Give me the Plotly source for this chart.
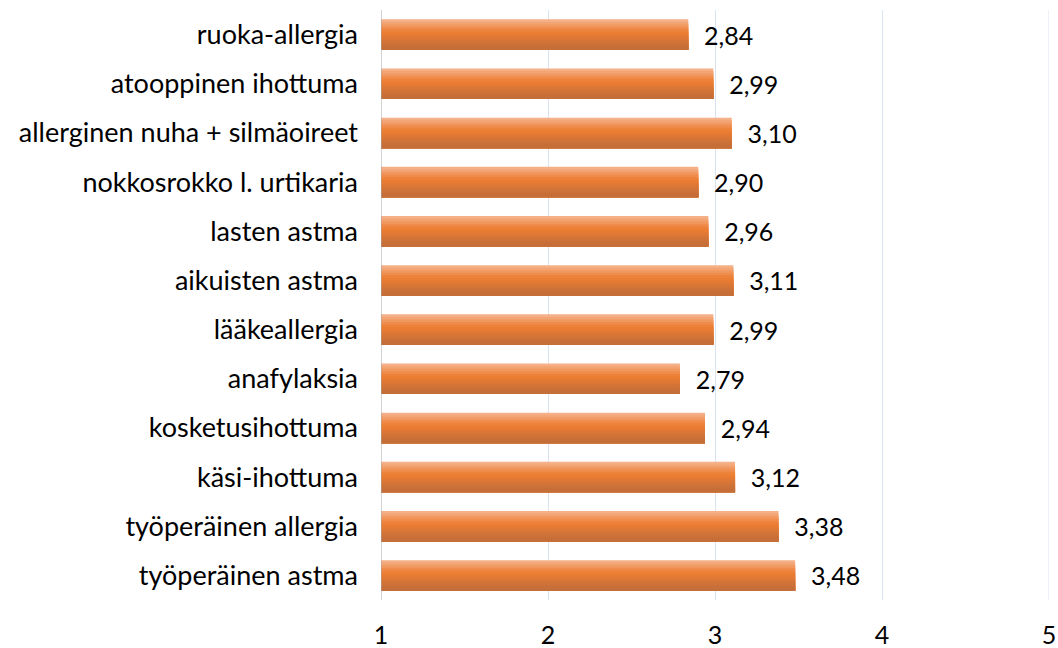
import plotly.graph_objects as go

categories = ["ruoka-allergia", "atooppinen ihottuma", "allerginen nuha + silmäoireet",
              "nokkosrokko l. urtikaria", "lasten astma", "aikuisten astma", "lääkeallergia",
              "anafylaksia", "kosketusihottuma", "käsi-ihottuma", "työperäinen allergia",
              "työperäinen astma"]
values = [2.84, 2.99, 3.10, 2.90, 2.96, 3.11, 2.99, 2.79, 2.94, 3.12, 3.38, 3.48]
tick_vals = [1, 2, 3, 4, 5]
tick_text = ["1", "2", "3", "4", "5"]

labels = ["\u00a0\u00a0" + f"{v:.2f}".replace(".", ",") for v in values]

# vertical gradient, top to bottom
grad = ["#f5b088", "#f3a473", "#f19860", "#ef8c4c", "#ed823b", "#eb7d33",
        "#e47a34", "#dc7735", "#d47437", "#cd7238", "#c86f38", "#c46e39"]
w = 0.62
n = len(grad)
FONT = "Lato, Open Sans, Liberation Sans, sans-serif"

fig = go.Figure()
for i, c in enumerate(grad):
    fig.add_trace(go.Bar(
        y=categories, x=values, orientation="h",
        width=w - i * w / n, offset=-w / 2 + i * w / n,
        marker=dict(color=c, line=dict(width=0)),
        hoverinfo="skip", showlegend=False,
    ))
fig.add_trace(go.Bar(
    y=categories, x=values, orientation="h",
    width=w, offset=-w / 2,
    marker=dict(color="rgba(0,0,0,0)", line=dict(width=0)),
    text=labels, textposition="outside", cliponaxis=False,
    textfont=dict(family=FONT, size=25, color="#000000"),
    showlegend=False,
))

fig.update_layout(
    width=1058, height=648,
    barmode="overlay",
    plot_bgcolor="white", paper_bgcolor="white",
    margin=dict(l=381, r=9, t=10, b=48, autoexpand=False),
    font=dict(family=FONT, color="#000000"),
)
fig.update_xaxes(
    range=[1, 5], tickvals=tick_vals, ticktext=tick_text,
    showgrid=True, gridcolor="#dae3f0", gridwidth=1,
    zeroline=False, showline=False, ticks="", automargin=False,
    tickfont=dict(size=25), ticklabelstandoff=18,
)
fig.update_yaxes(
    autorange="reversed", showline=False, automargin=False,
    ticks="", tickfont=dict(size=27), ticklabelstandoff=22,
    showgrid=False,
)
fig.add_shape(type="line", xref="x", yref="paper", x0=tick_vals[-1], x1=tick_vals[-1], y0=0, y1=1,
              line=dict(color="#dae3f0", width=1), layer="below")
fig.add_shape(type="line", xref="x", yref="paper", x0=1, x1=1, y0=0, y1=1,
              line=dict(color="#a6a6a6", width=1))

fig.write_html("out.html", config={"displayModeBar": False},
               post_script="document.body.style.margin='0';document.body.style.overflow='hidden';")
